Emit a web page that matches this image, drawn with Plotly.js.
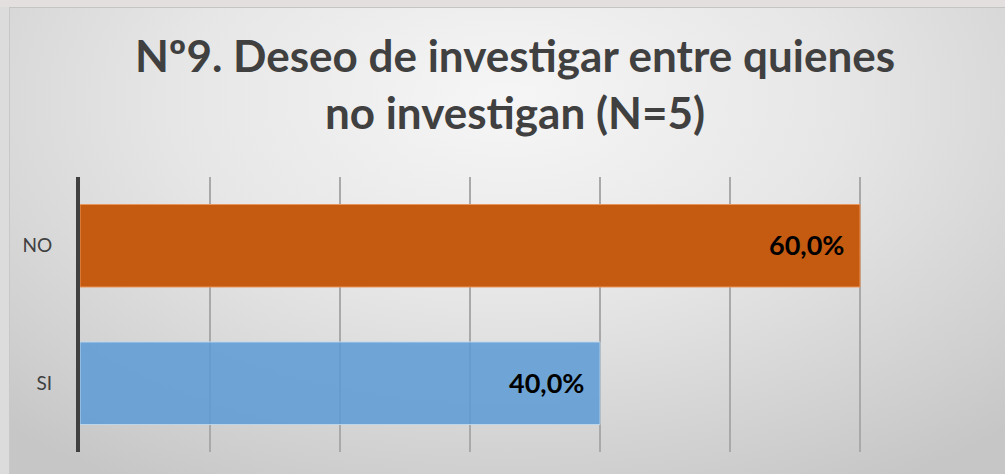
<!DOCTYPE html>
<html>
<head>
<meta charset="utf-8">
<script src="https://cdn.plot.ly/plotly-3.0.1.min.js"></script>
<style>
  html, body { margin: 0; padding: 0; }
  body { width: 1005px; height: 474px; background: #dcdcdc; position: relative; overflow: hidden; }
  #topband { position: absolute; left: 0; top: 0; width: 1005px; height: 7px; background: #e3dfde; }
  #panel { position: absolute; left: 9px; top: 7px; width: 996px; height: 467px;
    border-top: 1px solid #c4c4c4; border-left: 1px solid #c8c8c8; box-sizing: border-box;
    background: radial-gradient(ellipse 75% 95% at 50% 20%, #f6f6f6 0%, #e6e6e6 45%, #cfcfcf 85%, #c6c6c6 100%); }
  #chart { position: absolute; left: 0; top: 0; width: 1005px; height: 474px; }
</style>
</head>
<body>
<div id="topband"></div>
<div id="panel"></div>
<div id="chart"></div>
<script>
const categories = ['SI', 'NO'];
const values = [0.40, 0.60];
const titleText = 'Nº9. Deseo de investigar entre quienes<br>no investigan (N=5)';

const barColors = ['rgba(91,155,213,0.85)', '#C55A11'];
const barLines = ['rgba(190,215,238,0.9)', '#E9955C'];

const trace = {
  type: 'bar',
  orientation: 'h',
  y: categories,
  x: values,
  width: 0.6,
  marker: { color: barColors, line: { color: barLines, width: 1 } },
  hoverinfo: 'skip'
};

const annotations = categories.map((c, i) => ({
  x: values[i], y: c, xref: 'x', yref: 'y',
  text: '<b>' + (values[i] * 100).toFixed(1).replace('.', ',') + '%</b>',
  showarrow: false, xanchor: 'right', xshift: -14, yshift: 1,
  font: { family: 'Lato, "Open Sans", sans-serif', size: 27, color: '#000000' }
}));

const layout = {
  width: 1005, height: 474,
  paper_bgcolor: 'rgba(0,0,0,0)',
  plot_bgcolor: 'rgba(0,0,0,0)',
  margin: { l: 80, r: 15, t: 177, b: 22 },
  separators: ',.',
  showlegend: false,
  title: {
    text: '<b>' + titleText + '</b>',
    x: 0.5124, xanchor: 'center', xref: 'container',
    y: 0.848, yanchor: 'middle', yref: 'container',
    font: { family: 'Lato, "Open Sans", sans-serif', size: 44, color: '#404040' }
  },
  xaxis: {
    range: [0, 0.7], dtick: 0.1, tick0: 0,
    showgrid: true, gridcolor: '#a9a9a9', gridwidth: 1.5,
    zeroline: false, showticklabels: false, ticks: '', fixedrange: true
  },
  yaxis: {
    categoryorder: 'array', categoryarray: categories,
    range: [-0.5, 1.5],
    showgrid: false, zeroline: false,
    showline: true, linecolor: '#404040', linewidth: 4,
    ticks: '', ticklabelstandoff: 20,
    tickfont: { family: 'Lato, "Open Sans", sans-serif', size: 19, color: '#404040' },
    fixedrange: true
  },
  annotations: annotations
};

Plotly.newPlot('chart', [trace], layout, { displayModeBar: false, staticPlot: true });
</script>
</body>
</html>
